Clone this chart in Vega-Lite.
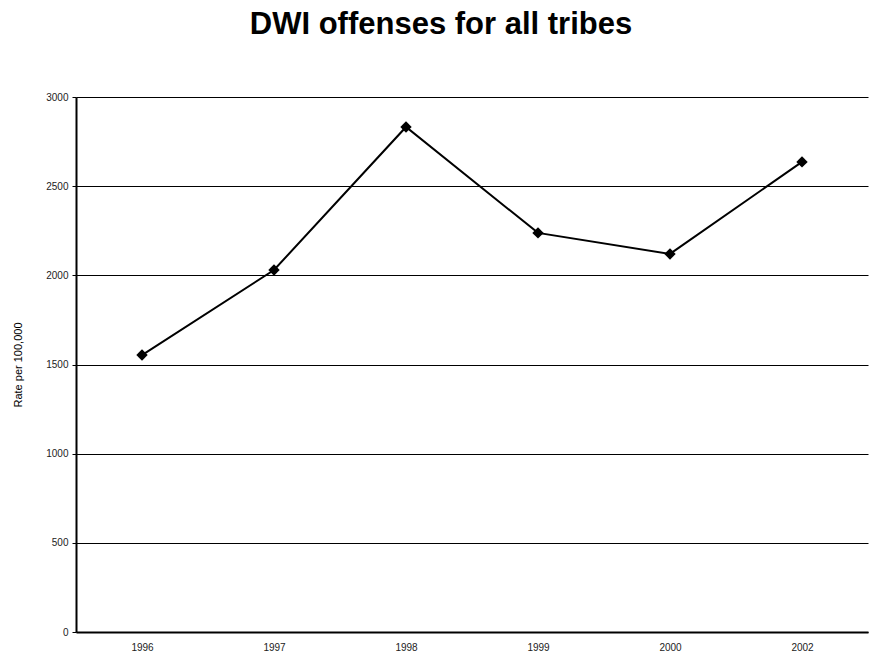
{
  "$schema": "https://vega.github.io/schema/vega-lite/v6.json",
  "width": 792,
  "height": 535,
  "autosize": {"type": "none"},
  "padding": {"left": 76, "top": 97, "right": 2, "bottom": 25},
  "background": "white",
  "title": {
    "text": "DWI offenses for all tribes",
    "font": "Liberation Sans",
    "fontSize": 31,
    "fontWeight": "bold",
    "color": "black",
    "anchor": "middle",
    "dx": -31,
    "offset": 51
  },
  "config": {
    "view": {"stroke": null},
    "axis": {
      "labelFont": "Liberation Sans",
      "titleFont": "Liberation Sans",
      "labelColor": "#222",
      "titleColor": "black",
      "domainColor": "black",
      "tickColor": "black"
    }
  },
  "data": {
    "values": [
      {"year": "1996", "rate": 1553},
      {"year": "1997", "rate": 2030},
      {"year": "1998", "rate": 2832},
      {"year": "1999", "rate": 2238},
      {"year": "2000", "rate": 2120},
      {"year": "2002", "rate": 2636}
    ]
  },
  "encoding": {
    "x": {
      "field": "year",
      "type": "ordinal",
      "scale": {"paddingInner": 0, "paddingOuter": 0},
      "axis": {
        "title": null,
        "labelAngle": 0,
        "labelFontSize": 10,
        "labelPadding": 10,
        "ticks": false,
        "domainWidth": 2,
        "grid": false
      }
    },
    "y": {
      "field": "rate",
      "type": "quantitative",
      "scale": {"domain": [0, 3000], "nice": false},
      "axis": {
        "title": "Rate per 100,000",
        "titleFontSize": 11,
        "titleFontWeight": "normal",
        "titlePadding": 22,
        "values": [0, 500, 1000, 1500, 2000, 2500, 3000],
        "format": "d",
        "labelFontSize": 10,
        "labelPadding": 4,
        "tickSize": 4,
        "domainWidth": 2,
        "grid": true,
        "gridColor": "black",
        "gridWidth": 1,
        "gridOpacity": 1
      }
    }
  },
  "layer": [
    {"mark": {"type": "line", "color": "black", "strokeWidth": 2}},
    {"mark": {"type": "point", "shape": "diamond", "filled": true, "color": "black", "size": 130, "opacity": 1}}
  ]
}
